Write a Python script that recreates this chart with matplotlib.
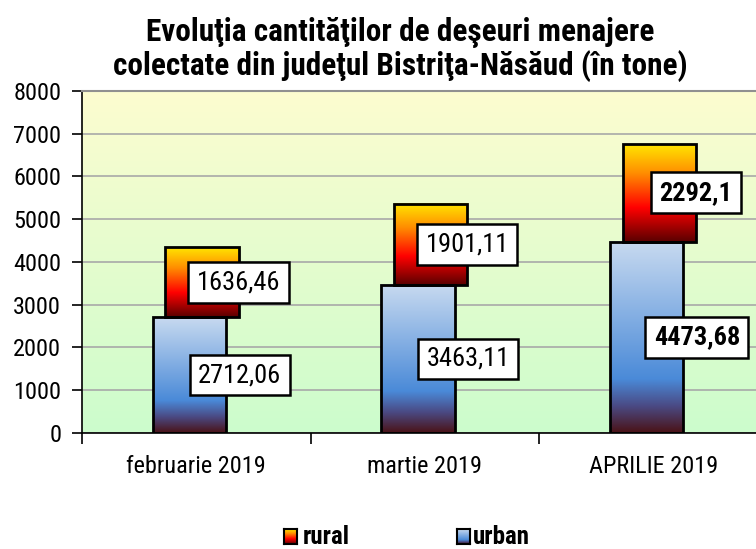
import numpy as np
import matplotlib
matplotlib.use('Agg')
import matplotlib.pyplot as plt
from matplotlib.colors import LinearSegmentedColormap
from matplotlib.patches import Rectangle

plt.rcParams['font.family'] = ['Roboto Condensed', 'Liberation Sans', 'DejaVu Sans']

# data
categories = ['februarie 2019', 'martie 2019', 'APRILIE 2019']
urban = [2712.06, 3463.11, 4473.68]
rural = [1636.46, 1901.11, 2292.1]
bold_labels = [False, False, True]

urban_cmap = LinearSegmentedColormap.from_list(
    'urban', [(0, '#4a1216'), (0.14, '#4a4a84'), (0.28, '#4a8ad8'), (1, '#c8daf0')])
rural_cmap = LinearSegmentedColormap.from_list(
    'rural', [(0, '#5a0000'), (0.35, '#ff0000'), (0.7, '#ff8c00'), (1, '#ffe600')])
bg_cmap = LinearSegmentedColormap.from_list('bg', ['#ccfccc', '#fdfdd0'])
grad = np.linspace(0, 1, 256).reshape(-1, 1)

fig = plt.figure(figsize=(7.56, 5.49), dpi=100)
ax = fig.add_axes([0.1085, 0.2113, 0.907, 0.623])
ax.imshow(grad, extent=[-0.5, 2.5, 0, 8000], origin='lower', cmap=bg_cmap,
          aspect='auto', zorder=0)


def draw_bar(x0, y0, w, h, cmap):
    ax.imshow(grad, extent=[x0, x0 + w, y0, y0 + h], origin='lower', cmap=cmap,
              aspect='auto', zorder=2)
    ax.add_patch(Rectangle((x0, y0), w, h, fill=False, ec='black', lw=2, zorder=3))


def label(x, y, val, bold):
    ax.text(x, y, str(val).replace('.', ','), ha='center', va='center', fontsize=19,
            fontweight='bold' if bold else 'normal', zorder=5,
            bbox=dict(boxstyle='square,pad=0.32', fc='white', ec='black', lw=1.8))


w = 0.32
for i in range(len(categories)):
    draw_bar(i - 0.03 - w / 2, 0, w, urban[i], urban_cmap)
    draw_bar(i + 0.025 - w / 2, urban[i], w, rural[i], rural_cmap)
    label(i + 0.19, urban[i] / 2, urban[i], bold_labels[i])
    label(i + 0.185, urban[i] + rural[i] / 2, rural[i], bold_labels[i])

ax.set_xlim(-0.5, 2.5)
ax.set_ylim(0, 8000)
ax.set_yticks(range(0, 8001, 1000))
ax.yaxis.grid(True, color='#a8a8a8', lw=1.2)
for gl in ax.get_ygridlines():
    gl.set_zorder(1)
ax.tick_params(axis='y', labelsize=17.5, length=7, width=1.2, pad=8)
ax.set_xticks(range(len(categories)))
ax.set_xticklabels(categories, fontsize=17.5)
ax.tick_params(axis='x', length=0, pad=16)
ax.set_xticks([-0.5, 0.5, 1.5, 2.5], minor=True)
ax.tick_params(axis='x', which='minor', length=8, width=1.2)
ax.spines['top'].set_color('#909090')
ax.spines['top'].set_linewidth(1.5)
ax.spines['left'].set_linewidth(1.2)
ax.spines['bottom'].set_linewidth(1.2)
ax.spines['right'].set_visible(False)

fig.text(0.529, 0.91, 'Evoluţia cantităţilor de deşeuri menajere\ncolectate din judeţul Bistriţa-Năsăud (în tone)',
         ha='center', va='center', fontsize=22.5, fontweight='bold', linespacing=1.05)

# legend
for xl, tx, cmap, name in [(0.3757, 0.4008, rural_cmap, 'rural'), (0.6045, 0.626, urban_cmap, 'urban')]:
    lax = fig.add_axes([xl, 0.0091, 0.0172, 0.0273])
    lax.imshow(grad, origin='lower', cmap=cmap, aspect='auto')
    lax.set_xticks([])
    lax.set_yticks([])
    for s in lax.spines.values():
        s.set_linewidth(1.5)
    fig.text(tx, 0.0219, name, ha='left', va='center', fontsize=18, fontweight='bold')

fig.savefig('out.png', dpi=100)
